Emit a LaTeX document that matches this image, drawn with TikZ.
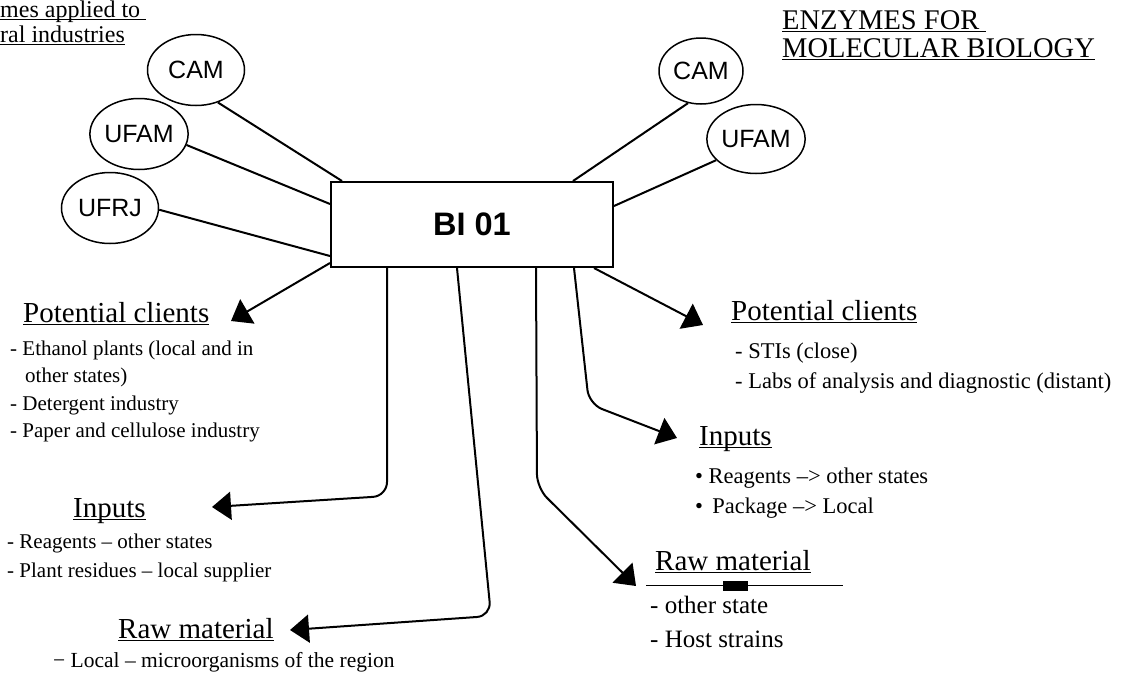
\documentclass[tikz,border=0pt]{standalone}
\usepackage{fontspec}
\setmainfont{Liberation Serif}
\newfontfamily\arialf{Liberation Sans}
\usetikzlibrary{shapes.geometric,arrows.meta,calc}
\newcommand\myul[1]{\setbox0\hbox{#1}\rlap{\rule[-0.12em]{\wd0}{0.05em}}\box0}
\begin{document}
\begin{tikzpicture}[x=1pt,y=-1pt,
  ell/.style={ellipse,draw,line width=1.5pt,inner sep=0pt,font=\arialf\fontsize{25}{25}\selectfont},
  con/.style={line width=2pt},
  arr/.style={line width=2pt,-{Triangle[length=19pt,width=28pt]},rounded corners=14pt},
  head/.style={anchor=base west,inner sep=0pt,font=\fontsize{29}{29}\selectfont},
  item/.style={anchor=base west,inner sep=0pt,font=\fontsize{21}{21}\selectfont},
  itemR/.style={anchor=base west,inner sep=0pt,font=\fontsize{22.5}{22.5}\selectfont},
  itemB/.style={anchor=base west,inner sep=0pt,font=\fontsize{25}{25}\selectfont},
  titleL/.style={anchor=base west,inner sep=0pt,font=\fontsize{24}{24}\selectfont},
  titleR/.style={anchor=base west,inner sep=0pt,font=\fontsize{28.5}{28.5}\selectfont},
]
\useasboundingbox (0,0) rectangle (1137,673);

% central box
\node[draw,line width=2pt,minimum width=282pt,minimum height=85pt,inner sep=0pt,
  font=\arialf\bfseries\fontsize{32.5}{32.5}\selectfont] (bi) at (472,224.5) {BI 01};

% ellipses
\node[ell,minimum width=97pt,minimum height=71pt] (camL) at (196,70) {CAM};
\node[ell,minimum width=98pt,minimum height=71pt] (ufamL) at (139,134) {UFAM};
\node[ell,minimum width=97pt,minimum height=71pt] (ufrj) at (110,208) {UFRJ};
\node[ell,minimum width=84pt,minimum height=66pt] (camR) at (701,71) {CAM};
\node[ell,minimum width=96pt,minimum height=69pt] (ufamR) at (756,139) {UFAM};

% connectors to ellipses
\draw[con] (camL.-56) -- ([xshift=12pt]bi.north west);
\draw[con] (ufamL.-13) -- ([yshift=-23pt]bi.north west);
\draw[con] (ufrj.-2) -- ([yshift=12pt]bi.south west);
\draw[con] (camR.-112) -- ([xshift=-41pt]bi.north east);
\draw[con] (ufamR.-152) -- ([yshift=-25pt]bi.north east);

% titles
\node[titleL] (tl1) at (0,17) {\myul{mes applied to\ }};
\node[titleL] (tl2) at (0,42) {\myul{ral industries}};
\node[titleR] (tr1) at (782,29) {\myul{ENZYMES FOR\ }};
\node[titleR] (tr2) at (782,57) {\myul{MOLECULAR BIOLOGY}};

% left blocks
\node[head] (pcL) at (23,322) {\myul{Potential clients}};
\node[item] (pcL1) at (10,355) {- Ethanol plants (local and in};
\node[item] (pcL2) at (25,382) {other states)};
\node[item] (pcL3) at (10,410) {- Detergent industry};
\node[item] (pcL4) at (10,437) {- Paper and cellulose industry};

\node[head] (inL) at (73,517) {\myul{Inputs}};
\node[item] (inL1) at (7,548) {- Reagents -- other states};
\node[item] (inL2) at (7,577) {- Plant residues -- local supplier};

\node[head] (rmL) at (118,638) {\myul{Raw material}};
\node[anchor=base west,inner sep=0pt,font=\fontsize{21.5}{21.5}\selectfont] (rmL1) at (53,667) {− Local -- microorganisms of the region};

% right blocks
\node[head] (pcR) at (731,320) {\myul{Potential clients}};
\node[itemR] (pcR1) at (735,358) {- STIs (close)};
\node[itemR] (pcR2) at (735,388) {- Labs of analysis and diagnostic (distant)};

\node[head] (inR) at (699,445) {\myul{Inputs}};
\node[itemR] (inR1) at (695,483) {• Reagents --> other states};
\node[itemR] (inR2) at (695,513) {• \,Package --> Local};

\node[head] (rmR) at (655,570) {\myul{Raw material}};
\draw[line width=1pt] (646,585) -- (843,585);
\fill (723,581) rectangle (748,591);
\node[itemB] (rmR1) at (650,613) {- other state};
\node[itemB] (rmR2) at (650,647) {- Host strains};

% arrow tips and bends
\coordinate (tPCL) at (231,321);
\coordinate (bINL) at (387,496);
\coordinate (tINL) at (212,507);
\coordinate (bRML) at (491,616);
\coordinate (tRML) at (290,630);
\coordinate (bRMR) at (537,488);
\coordinate (tRMR) at (636,586);
\coordinate (bINR) at (589,404);
\coordinate (tINR) at (677,438);
\coordinate (tPCR) at (703,325);

\draw[arr] ([yshift=5pt]bi.south west) -- (tPCL);
\draw[arr] ([xshift=57pt]bi.south west) -- (bINL) -- (tINL);
\draw[arr] ([xshift=127pt]bi.south west) -- (bRML) -- (tRML);
\draw[arr] ([xshift=206pt]bi.south west) -- (bRMR) -- (tRMR);
\draw[arr] ([xshift=244pt]bi.south west) -- (bINR) -- (tINR);
\draw[arr] ([xshift=-20pt]bi.south east) -- (tPCR);
\end{tikzpicture}
\end{document}
